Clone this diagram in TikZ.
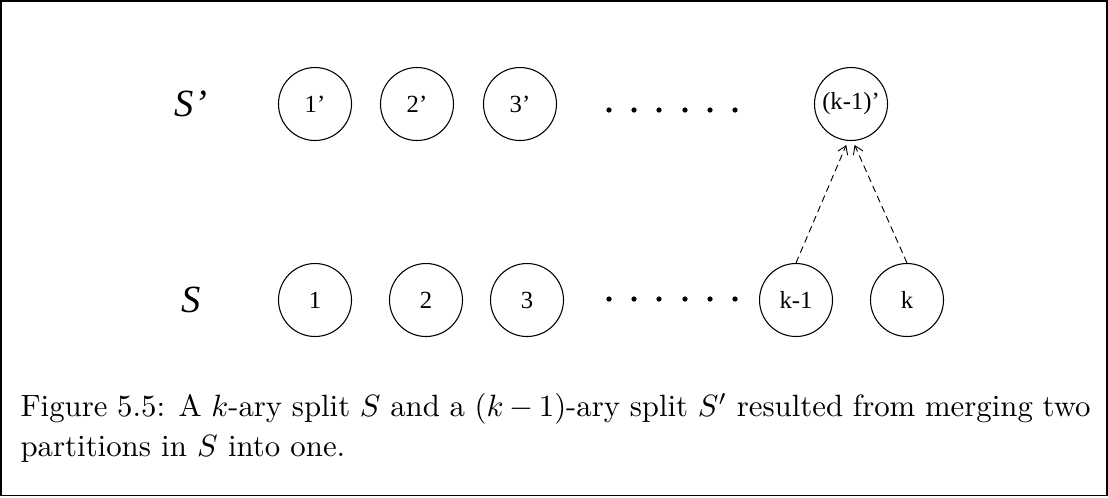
\documentclass[tikz,border=0pt]{standalone}
\usepackage{amsmath,amssymb}
\usepackage{fontspec}
\newfontfamily\timesfont{Liberation Serif}
\usetikzlibrary{arrows.meta}

\tikzset{
  part/.style={draw, circle, line width=0.35pt, minimum size=23.7pt, inner sep=0pt,
               font=\timesfont\fontsize{8}{9}\selectfont},
  dot/.style={circle, fill, inner sep=0pt, minimum size=1.7pt},
  setname/.style={font=\timesfont\itshape\fontsize{12.5}{14}\selectfont},
  merge/.style={dash pattern=on 2.2pt off 1.4pt, line width=0.3pt,
                -{Straight Barb[length=2.6pt,width=3.4pt]}}
}

\begin{document}
\begin{tikzpicture}[x=0.3247pt, y=-0.3247pt]
 \useasboundingbox (0,0) rectangle (1108,497);
 \draw[line width=0.5pt] (1,1) rectangle (1107,495.5);
 % split S'
 \node[setname] (sp) at (191,104) {S’};
 \node[part] (p1) at (315,104) {1’};
 \node[part] (p2) at (417,104) {2’};
 \node[part] (p3) at (520,104) {3’};
 \node[dot] (t1) at (609,110) {};
 \node[dot] (t2) at (634,110) {};
 \node[dot] (t3) at (659,110) {};
 \node[dot] (t4) at (685,110) {};
 \node[dot] (t5) at (710,110) {};
 \node[dot] (t6) at (735,110) {};
 \node[part] (pk) at (851,104) {(k-1)’};
 % split S
 \node[setname] (s) at (191,300) {S};
 \node[part] (s1) at (315,300) {1};
 \node[part] (s2) at (426,300) {2};
 \node[part] (s3) at (527,300) {3};
 \node[dot] (b1) at (609,299) {};
 \node[dot] (b2) at (634,299) {};
 \node[dot] (b3) at (659,299) {};
 \node[dot] (b4) at (685,299) {};
 \node[dot] (b5) at (710,299) {};
 \node[dot] (b6) at (735,299) {};
 \node[part] (skm) at (796,300) {k-1};
 \node[part] (sk) at (907,300) {k};
  \draw[merge, shorten >=1.4pt] (skm.north) -- ([xshift=-1pt]pk.south);
  \draw[merge, shorten >=1.4pt] (sk.north) -- ([xshift=0.6pt]pk.south);
 % caption
 \node[anchor=north west, inner sep=0pt, text width=347.4pt, align=justify,
       font=\fontsize{10}{13}\selectfont] (cap) at (20,393)
  {Figure 5.5: A $k$-ary split $S$ and a $(k-1)$-ary split $S'$ resulted from merging two partitions in $S$ into one.};
\end{tikzpicture}
\end{document}
